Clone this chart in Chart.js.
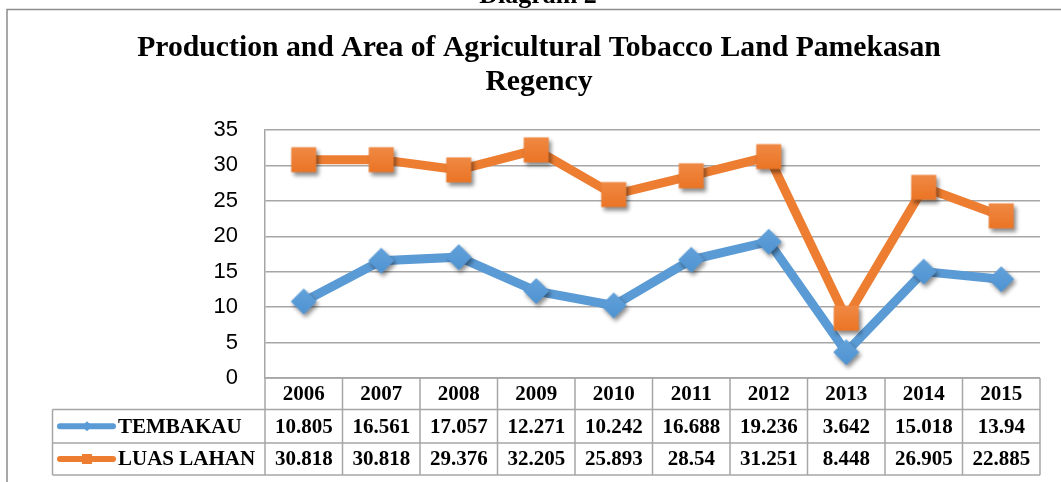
<!DOCTYPE html>
<html>
<head>
<meta charset="utf-8">
<script src="https://cdn.jsdelivr.net/npm/chart.js@4.4.1/dist/chart.umd.min.js"></script>
<style>
  html, body { margin: 0; padding: 0; background: #fff; }
  #wrap { width: 1061px; height: 482px; position: relative; }
</style>
</head>
<body>
<div id="wrap"><canvas id="tobaccoChart" width="1061" height="482"></canvas></div>
<script>
// data
const years = ["2006", "2007", "2008", "2009", "2010", "2011", "2012", "2013", "2014", "2015"];
const tembakau = [10.805, 16.561, 17.057, 12.271, 10.242, 16.688, 19.236, 3.642, 15.018, 13.94];
const luasLahan = [30.818, 30.818, 29.376, 32.205, 25.893, 28.54, 31.251, 8.448, 26.905, 22.885];
const tembakauLabels = ["10.805", "16.561", "17.057", "12.271", "10.242", "16.688", "19.236", "3.642", "15.018", "13.94"];
const luasLabels = ["30.818", "30.818", "29.376", "32.205", "25.893", "28.54", "31.251", "8.448", "26.905", "22.885"];
const seriesNames = ["TEMBAKAU", "LUAS LAHAN"];

const BLUE = '#5B9BD5';
const ORANGE = '#ED7D31';
const GRID = '#A6A6A6';
const SERIF = '"Liberation Serif", "Times New Roman", serif';

// marker images with a soft drop shadow
function makeMarker(kind, color, light) {
  const c = document.createElement('canvas');
  c.width = 40; c.height = 40;
  const g = c.getContext('2d');
  g.save();
  g.shadowColor = 'rgba(0,0,0,0.45)';
  g.shadowBlur = 4;
  g.shadowOffsetX = 2;
  g.shadowOffsetY = 3;
  const grad = g.createLinearGradient(0, 7, 0, 33);
  grad.addColorStop(0, light);
  grad.addColorStop(1, color);
  g.fillStyle = grad;
  g.beginPath();
  if (kind === 'square') {
    g.rect(20 - 12.5, 20 - 12.5, 25, 25);
  } else {
    g.moveTo(20, 7); g.lineTo(33, 20); g.lineTo(20, 33); g.lineTo(7, 20);
    g.closePath();
  }
  g.fill();
  g.restore();
  return c;
}
const squareImg = makeMarker('square', '#EB7424', '#F08A45');
const diamondImg = makeMarker('diamond', '#4F93D2', '#63A2DA');

const tablePlugin = {
  id: 'dataTable',
  afterDraw(chart) {
    const ctx = chart.ctx;
    const xs = chart.scales.x;
    const area = chart.chartArea;
    const left = area.left, right = area.right;
    const rows = [area.bottom, 409.5, 443, 475];
    const legendLeft = 52.5;

    ctx.save();
    // outer frame
    ctx.strokeStyle = '#8C8C8C';
    ctx.lineWidth = 1.5;
    ctx.beginPath();
    ctx.moveTo(7, 490); ctx.lineTo(7, 9.5); ctx.lineTo(1070, 9.5);
    ctx.stroke();

    // "Diagram 2" heading, mostly cut off at the top
    ctx.fillStyle = '#000';
    ctx.font = 'bold 26px ' + SERIF;
    ctx.textAlign = 'center';
    ctx.textBaseline = 'alphabetic';
    ctx.fillText('Diagram 2', 538, 2.5);

    // table grid
    ctx.strokeStyle = GRID;
    ctx.lineWidth = 1.5;
    ctx.beginPath();
    ctx.moveTo(left, rows[0]); ctx.lineTo(right, rows[0]);
    for (let r = 1; r < rows.length; r++) {
      ctx.moveTo(legendLeft, rows[r]); ctx.lineTo(right, rows[r]);
    }
    ctx.moveTo(legendLeft, rows[1]); ctx.lineTo(legendLeft, rows[3]);
    const bounds = [left];
    for (let i = 0; i < years.length - 1; i++) {
      bounds.push((xs.getPixelForValue(i) + xs.getPixelForValue(i + 1)) / 2);
    }
    bounds.push(right);
    bounds.forEach(b => { ctx.moveTo(b, rows[0]); ctx.lineTo(b, rows[3]); });
    ctx.stroke();

    // cell text
    ctx.fillStyle = '#000';
    ctx.font = 'bold 21px ' + SERIF;
    ctx.textAlign = 'center';
    ctx.textBaseline = 'middle';
    const cellRows = [years, tembakauLabels, luasLabels];
    cellRows.forEach((vals, r) => {
      const cy = (rows[r] + rows[r + 1]) / 2 + 1;
      vals.forEach((v, i) => ctx.fillText(v, xs.getPixelForValue(i), cy));
    });

    // legend keys
    const colors = [BLUE, ORANGE];
    seriesNames.forEach((name, k) => {
      const cy = (rows[k + 1] + rows[k + 2]) / 2;
      ctx.strokeStyle = colors[k];
      ctx.lineWidth = 6;
      ctx.lineCap = 'round';
      ctx.beginPath();
      ctx.moveTo(60, cy); ctx.lineTo(113, cy);
      ctx.stroke();
      ctx.fillStyle = colors[k];
      ctx.beginPath();
      if (k === 0) {
        ctx.moveTo(87, cy - 5); ctx.lineTo(92, cy); ctx.lineTo(87, cy + 5); ctx.lineTo(82, cy);
        ctx.closePath();
      } else {
        ctx.rect(82, cy - 5, 10, 10);
      }
      ctx.fill();
      ctx.fillStyle = '#000';
      ctx.textAlign = 'left';
      ctx.fillText(name, 118, cy + 1);
    });
    ctx.restore();
  }
};

new Chart(document.getElementById('tobaccoChart').getContext('2d'), {
  type: 'line',
  data: {
    labels: years,
    datasets: [{
      label: seriesNames[0],
      data: tembakau,
      borderColor: BLUE,
      backgroundColor: BLUE,
      borderWidth: 9,
      pointStyle: diamondImg,
      order: 2
    }, {
      label: seriesNames[1],
      data: luasLahan,
      borderColor: ORANGE,
      backgroundColor: ORANGE,
      borderWidth: 9,
      pointStyle: squareImg,
      order: 1
    }]
  },
  options: {
    responsive: false,
    animation: false,
    layout: { padding: { left: 38, right: 21, top: 0, bottom: 104 } },
    plugins: {
      legend: { display: false },
      tooltip: { enabled: false },
      title: {
        display: true,
        text: ['Production and Area of Agricultural Tobacco Land Pamekasan', 'Regency'],
        color: '#000',
        font: { family: SERIF, size: 29.7, weight: 'bold', lineHeight: 1.15 },
        padding: { top: 31, bottom: 30.7 }
      }
    },
    scales: {
      x: {
        display: false,
        offset: true
      },
      y: {
        min: 0,
        max: 35,
        ticks: {
          stepSize: 5,
          padding: 27,
          color: '#000',
          font: { family: '"Liberation Sans", Arial, sans-serif', size: 22 }
        },
        grid: { color: GRID, lineWidth: 1.5, drawTicks: false },
        border: { color: GRID, width: 1.5 },
        afterFit(scale) { scale.width = 227; }
      }
    }
  },
  plugins: [tablePlugin]
});
</script>
</body>
</html>
